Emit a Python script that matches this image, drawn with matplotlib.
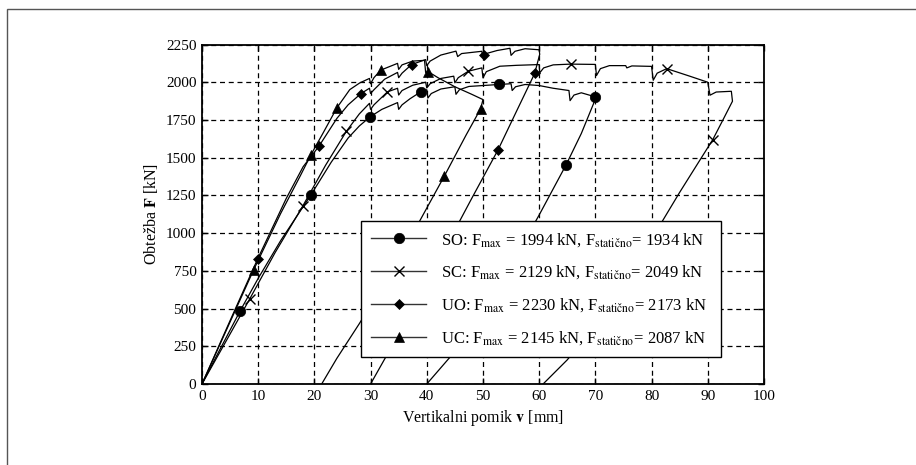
import matplotlib
matplotlib.use("Agg")
import matplotlib.pyplot as plt
from matplotlib.patches import Rectangle

plt.rcParams["font.family"] = ["Liberation Serif", "DejaVu Serif"]
plt.rcParams["mathtext.fontset"] = "stix"

# vertical displacement v [mm] and load F [kN]
so_v = [0, 3, 6.8, 10, 14, 19.4, 23, 26, 28, 29.9, 32, 34.8, 35, 35.6, 37, 39, 40, 40.2, 40.8,
        42.5, 45, 45.2, 45.8, 47.5, 50, 52.8, 55, 55.2, 55.8, 57.5, 60, 62.5, 65.3, 65.5, 66.2,
        67.5, 70, 69.7, 67.5, 64.8, 60, 55, 50, 45, 40]
so_f = [0, 215, 485, 700, 950, 1254, 1470, 1630, 1710, 1770, 1820, 1865, 1820, 1850, 1890, 1938,
        1950, 1895, 1925, 1955, 1970, 1920, 1950, 1972, 1978, 1985, 1990, 1945, 1970, 1985, 1978,
        1960, 1945, 1878, 1915, 1930, 1903, 1860, 1660, 1453, 1120, 790, 480, 215, 0]

sc_v = [0, 4, 8.5, 13, 17.9, 22, 25.7, 28, 29.8, 30, 30.6, 33, 34.8, 35, 35.6, 37.5, 39.8, 40,
        40.6, 42.5, 44.8, 45, 45.6, 47.4, 49.8, 50, 50.6, 53, 56, 60, 60.1, 60.8, 62.5, 65.6, 70,
        70.2, 70.9, 72.5, 75.4, 75.6, 76.5, 80, 80.3, 81, 82.7, 86.8, 90, 90.4, 91.5, 94.2, 94.4,
        92.7, 90.9, 85, 80, 75, 70, 65, 60.7]
sc_f = [0, 265, 564, 870, 1177, 1450, 1675, 1790, 1860, 1820, 1850, 1936, 1960, 1915, 1945, 1980,
        2000, 1962, 1990, 2025, 2040, 1996, 2030, 2073, 2095, 2029, 2070, 2106, 2112, 2117, 2062,
        2095, 2115, 2120, 2118, 2044, 2090, 2110, 2110, 2095, 2108, 2105, 2013, 2060, 2090, 2040,
        2000, 1914, 1935, 1940, 1874, 1750, 1620, 1270, 960, 660, 390, 160, 0]

uo_v = [0, 5, 9.9, 15, 18, 20.8, 24, 26, 28.3, 29.8, 30, 30.6, 32.5, 34.8, 35, 35.6, 37.3, 39.8,
        40, 40.6, 42.5, 45.2, 45.5, 46.2, 49.8, 50, 50.6, 52.5, 54.8, 55, 55.7, 57.5, 60, 60.1,
        59.2, 56, 52.7, 48, 44, 40, 35, 30]
uo_f = [0, 420, 828, 1230, 1440, 1575, 1760, 1850, 1925, 1960, 1925, 1950, 2020, 2065, 2030, 2060,
        2117, 2150, 2110, 2140, 2180, 2206, 2170, 2190, 2205, 2165, 2190, 2210, 2225, 2178, 2205,
        2222, 2215, 2185, 2058, 1810, 1553, 1230, 950, 680, 330, 0]

uc_v = [0, 4.5, 9.2, 14, 17.5, 19.4, 21.5, 24, 26.3, 28.1, 29.8, 30, 30.6, 31.8, 34.8, 35, 35.6,
        37.5, 39.6, 39.8, 40.3, 42, 45, 48, 50, 49.6, 47, 43.1, 38, 33, 28, 24, 21.3]
uc_f = [0, 370, 757, 1130, 1380, 1520, 1660, 1830, 1951, 1996, 2025, 1990, 2030, 2080, 2125, 2085,
        2115, 2140, 2145, 2065, 2069, 2030, 1970, 1920, 1885, 1825, 1650, 1376, 1030, 700, 400, 170, 0]

# marker positions along each curve
so_mv = [6.8, 19.4, 29.9, 39, 52.8, 70, 64.8]
so_mf = [485, 1254, 1770, 1938, 1985, 1903, 1453]
sc_mv = [8.5, 17.9, 25.7, 33, 47.4, 65.6, 82.7, 90.9]
sc_mf = [564, 1177, 1675, 1936, 2073, 2120, 2090, 1620]
uo_mv = [9.9, 20.8, 28.3, 37.3, 50.2, 59.2, 52.7]
uo_mf = [828, 1575, 1925, 2117, 2180, 2058, 1553]
uc_mv = [9.2, 19.4, 24, 31.8, 40.3, 49.6, 43.1]
uc_mf = [757, 1520, 1830, 2080, 2069, 1825, 1376]

labels = [
    r"SO: F$_{\rm max}$ = 1994 kN, F$_{\rm statično}$= 1934 kN",
    r"SC: F$_{\rm max}$ = 2129 kN, F$_{\rm statično}$= 2049 kN",
    r"UO: F$_{\rm max}$ = 2230 kN, F$_{\rm statično}$= 2173 kN",
    r"UC: F$_{\rm max}$ = 2145 kN, F$_{\rm statično}$= 2087 kN",
]

fig = plt.figure(figsize=(9.16, 4.65), dpi=100)
ax = fig.add_axes([0.2205, 0.1742, 0.6135, 0.7301])

series = [
    (so_v, so_f, so_mv, so_mf, "o", 7.5),
    (sc_v, sc_f, sc_mv, sc_mf, "x", 7),
    (uo_v, uo_f, uo_mv, uo_mf, "D", 5.5),
    (uc_v, uc_f, uc_mv, uc_mf, "^", 7.5),
]
handles = []
for (v, f, mv, mf, mk, ms), lab in zip(series, labels):
    ax.plot(v, f, color="black", lw=0.9)
    ax.plot(mv, mf, ls="none", marker=mk, ms=ms, color="black", mew=1 if mk == "x" else 0.5)
    h, = ax.plot([], [], color="#333333", lw=1, marker=mk, ms=ms, mfc="black", mec="black",
                 mew=1 if mk == "x" else 0.5, label=lab)
    handles.append(h)

ax.set_xlim(0, 100)
ax.set_ylim(0, 2250)
ax.set_xticks(range(0, 101, 10))
ax.set_yticks(range(0, 2251, 250))
ax.grid(True, color="black", ls=(0, (4, 3)), lw=0.9)
ax.tick_params(direction="in", top=True, right=True, length=4, width=1, labelsize=11, pad=4)
for s in ax.spines.values():
    s.set_linewidth(1.3)

ax.set_xlabel(r"Vertikalni pomik $\mathbf{v}$ [mm]", fontsize=11.5, labelpad=4)
ax.set_ylabel(r"Obtežba $\mathbf{F}$ [kN]", fontsize=11.5, labelpad=4)

leg = ax.legend(handles=handles, loc="lower left", bbox_to_anchor=(0.283, 0.0796, 0.64, 0.398),
                mode="expand", borderaxespad=0, fontsize=12, handlelength=3.3,
                handletextpad=0.9, labelspacing=0.9, fancybox=False, framealpha=1,
                facecolor="white", edgecolor="black", borderpad=0.6)
leg.get_frame().set_linewidth(1)
leg.set_zorder(10)

fig.patches.append(Rectangle((7 / 916, -0.1), 1.2, (465 - 9) / 465 + 0.1, transform=fig.transFigure,
                             fill=False, edgecolor="#555555", lw=1))

fig.savefig("out.png", dpi=100)
